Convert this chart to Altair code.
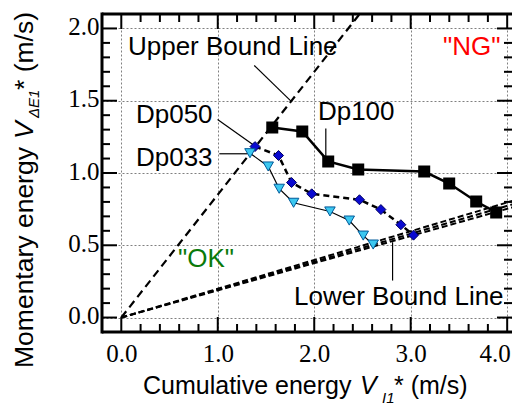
import altair as alt
import pandas as pd

# ---------------- data ----------------
dp100_x = [1.565, 1.876, 2.145, 2.456, 3.140, 3.399, 3.679, 3.886]
dp100_y = [1.315, 1.287, 1.080, 1.024, 1.010, 0.927, 0.803, 0.727]

dp050_x = [1.386, 1.630, 1.765, 1.974, 2.469, 2.691, 2.898, 3.029]
dp050_y = [1.183, 1.121, 0.934, 0.856, 0.815, 0.747, 0.642, 0.570]

dp033_x = [1.334, 1.523, 1.637, 1.786, 2.163, 2.363, 2.508, 2.611]
dp033_y = [1.137, 1.045, 0.891, 0.794, 0.734, 0.671, 0.567, 0.505]

upper_x = [0.0, 2.5]
upper_y = [0.0, 2.125]

lower_id = ["a", "b", "c"]
lower_end_x = 4.2
lower_end_y = [0.790, 0.811, 0.836]

lead_x1 = [1.378, 0.998, 1.016, 2.12, 2.812]
lead_y1 = [1.744, 1.370, 1.133, 1.308, 0.521]
lead_x2 = [1.759, 1.378, 1.309, 2.12, 2.812]
lead_y2 = [1.497, 1.190, 1.133, 1.107, 0.256]

ann_text = ["Upper Bound Line", "Dp050", "Dp033", "Dp100", "Lower Bound Line", '"NG"', '"OK"']
ann_x = [0.069, 0.152, 0.152, 2.038, 1.790, 3.334, 0.588]
ann_y = [1.816, 1.346, 1.048, 1.366, 0.086, 1.816, 0.349]
ann_color = ["black", "black", "black", "black", "black", "#ff0000", "#0a7a0a"]

x_major = [0, 1, 2, 3, 4]
y_major = [0, 0.5, 1.0, 1.5, 2.0]
x_minor = [round(0.2 * i, 1) for i in range(1, 20) if i % 5 != 0]
y_minor = [round(0.1 * i, 1) for i in range(1, 20) if i % 5 != 0]

xtitle_parts = ["Cumulative energy", "V", "I1", "* (m/s)"]
ytitle_parts = ["Momentary energy", "V", "\u0394E1", "* (m/s)"]

# ---------------- layout ----------------
W, H = 410, 318
xs = alt.Scale(domain=[-0.2, 4.05], nice=False, zero=False)
ys = alt.Scale(domain=[-0.1, 2.1], nice=False, zero=False)

SERIF = "Times New Roman, Liberation Serif, serif"
SANS = "Liberation Sans, Arial, sans-serif"

common_axis = dict(title=None, domain=False, ticks=False, tickSize=0, grid=True,
                   gridColor="#808080", gridDash=[2, 2], gridWidth=1,
                   labelFont=SERIF, labelFontSize=25, labelColor="black",
                   labelOverlap=False, format=".1f")
xax = alt.Axis(values=x_major, labelPadding=9, labelFlush=6, labelFlushOffset=3, **common_axis)
yax = alt.Axis(values=y_major, labelPadding=3, labelOffset=-2, labelFlush=False, **common_axis)

X = lambda: alt.X("x:Q", scale=xs, axis=xax)
Y = lambda: alt.Y("y:Q", scale=ys, axis=yax)
X2 = lambda: alt.X2("x2:Q")
Y2 = lambda: alt.Y2("y2:Q")

dummy = pd.DataFrame({"a": [0]})

# bound lines
upper = alt.Chart(pd.DataFrame({"x": upper_x, "y": upper_y})).mark_line(
    color="black", strokeWidth=2.2, strokeDash=[8, 5], clip=True).encode(x=X(), y=Y())

low_rows = []
for i, e in zip(lower_id, lower_end_y):
    low_rows.append({"x": 0.0, "y": 0.0, "id": i})
    low_rows.append({"x": lower_end_x, "y": e, "id": i})
lower = alt.Chart(pd.DataFrame(low_rows)).mark_line(
    color="black", strokeWidth=2, strokeDash=[6, 3], clip=True).encode(
    x=X(), y=Y(), detail="id:N")

# leader lines
leaders = alt.Chart(pd.DataFrame({"x": lead_x1, "y": lead_y1, "x2": lead_x2, "y2": lead_y2})).mark_rule(
    color="black", strokeWidth=1.2).encode(x=X(), y=Y(), x2=X2(), y2=Y2())

# series
d100 = pd.DataFrame({"x": dp100_x, "y": dp100_y})
d050 = pd.DataFrame({"x": dp050_x, "y": dp050_y})
d033 = pd.DataFrame({"x": dp033_x, "y": dp033_y})

l100 = alt.Chart(d100).mark_line(color="black", strokeWidth=2.5).encode(x=X(), y=Y())
l050 = alt.Chart(d050).mark_line(color="black", strokeWidth=2.5, strokeDash=[6, 4]).encode(x=X(), y=Y())
l033 = alt.Chart(d033).mark_line(color="black", strokeWidth=1.2).encode(x=X(), y=Y())

p100 = alt.Chart(d100).mark_point(shape="square", filled=True, size=100, fill="black",
                                  stroke="black", opacity=1).encode(x=X(), y=Y())
p050 = alt.Chart(d050).mark_point(shape="diamond", filled=True, size=100, fill="#0a0ad0",
                                  stroke="#000060", strokeWidth=1, opacity=1).encode(x=X(), y=Y())
p033 = alt.Chart(d033).mark_point(shape="triangle-down", filled=True, size=110, fill="#3cc8f0",
                                  stroke="#005a9a", strokeWidth=1, opacity=1).encode(x=X(), y=Y())

# annotations
ann = alt.Chart(pd.DataFrame({"x": ann_x, "y": ann_y, "t": ann_text, "c": ann_color})).mark_text(
    font=SANS, fontSize=26, align="left", baseline="alphabetic").encode(
    x=X(), y=Y(), text="t:N", color=alt.Color("c:N", scale=None))

# inward ticks
def vticks(vals, y0, y1):
    return alt.Chart(pd.DataFrame({"x": vals})).mark_rule(color="black", strokeWidth=2).encode(
        x=X(), y=alt.value(y0), y2=alt.value(y1))

def hticks(vals, x0, x1):
    return alt.Chart(pd.DataFrame({"y": vals})).mark_rule(color="black", strokeWidth=2).encode(
        y=Y(), x=alt.value(x0), x2=alt.value(x1))

ticks = [
    vticks(x_major, H, H - 15), vticks(x_minor, H, H - 8),
    vticks(x_major, 0, 15), vticks(x_minor, 0, 8),
    hticks(y_major, 0, 15), hticks(y_minor, 0, 8),
    hticks(y_major, W, W - 15), hticks(y_minor, W, W - 8),
]

# frame (left, top, bottom)
frame_left = alt.Chart(dummy).mark_rule(color="black", strokeWidth=3).encode(
    x=alt.value(0), y=alt.value(-1.5), y2=alt.value(H + 1.5))
frame_top = alt.Chart(dummy).mark_rule(color="black", strokeWidth=3).encode(
    y=alt.value(0), x=alt.value(0), x2=alt.value(W))
frame_bottom = alt.Chart(dummy).mark_rule(color="black", strokeWidth=3).encode(
    y=alt.value(H), x=alt.value(0), x2=alt.value(W))

# axis titles built from text pieces (italic variable with subscript)
def title_piece(txt, x, y, size, italic=False, angle=0):
    kw = dict(font=SANS, fontSize=size, align="left", baseline="alphabetic", color="black")
    if italic:
        kw["fontStyle"] = "italic"
    if angle:
        kw["angle"] = angle
    return alt.Chart(dummy).mark_text(**kw).encode(
        x=alt.value(x), y=alt.value(y), text=alt.value(txt))

xt = [
    title_piece(xtitle_parts[0], 41, 380, 25),
    title_piece(xtitle_parts[1], 258, 380, 25, italic=True),
    title_piece(xtitle_parts[2], 280, 389, 15, italic=True),
    title_piece(xtitle_parts[3], 292, 380, 25),
]
yt = [
    title_piece(ytitle_parts[0], -69, 354, 26.5, angle=270),
    title_piece(ytitle_parts[1], -69, 125, 26.5, italic=True, angle=270),
    title_piece(ytitle_parts[2], -63, 104, 15, italic=True, angle=270),
    title_piece(ytitle_parts[3], -69, 76, 26.5, angle=270),
]

chart = alt.layer(
    upper, lower, leaders, l100, l050, l033, p100, p050, p033, ann,
    *ticks, frame_left, frame_top, frame_bottom, *xt, *yt
).properties(
    width=W, height=H,
    padding={"left": 94, "top": 6, "right": 0, "bottom": 74},
    autosize=alt.AutoSizeParams(type="none"),
    background="white",
).configure_view(stroke=None)

chart.save("out.html", embed_options={"renderer": "svg", "actions": False})
